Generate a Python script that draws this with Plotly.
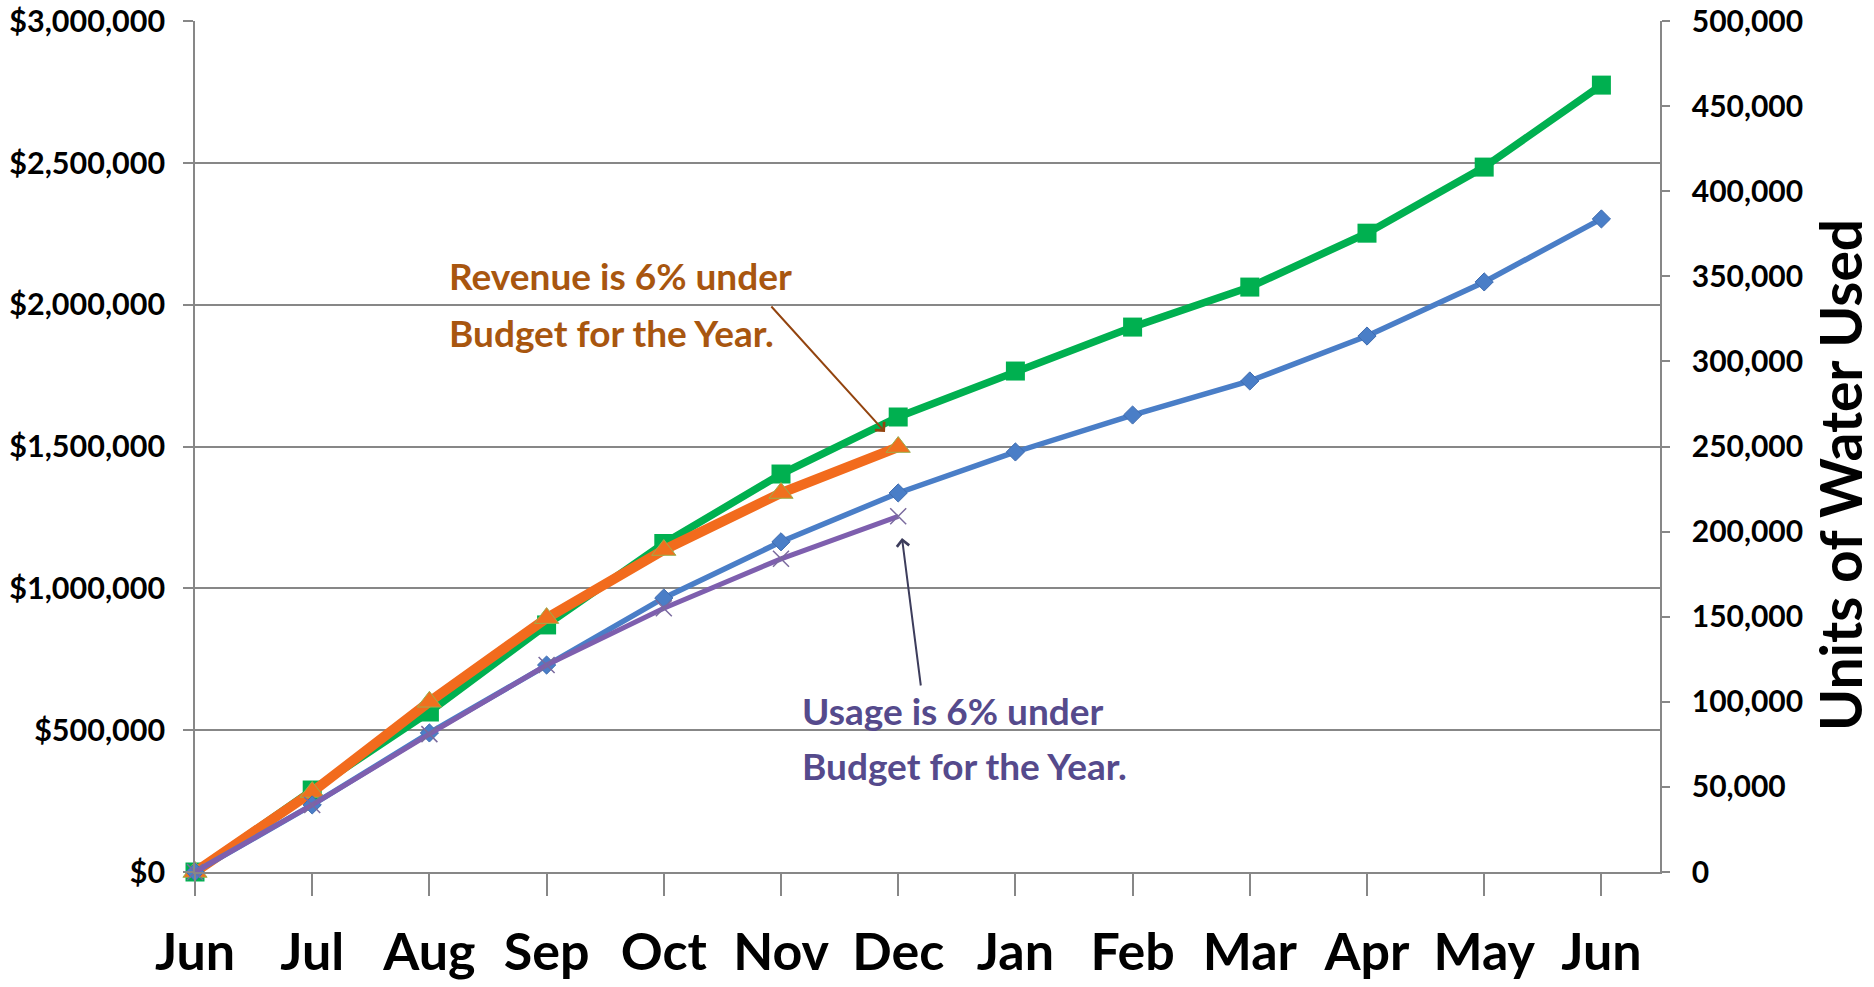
import plotly.graph_objects as go

months = ["Jun", "Jul", "Aug", "Sep", "Oct", "Nov", "Dec", "Jan", "Feb", "Mar", "Apr", "May", "Jun"]
revenue_budget = [0, 289000, 564000, 871000, 1158000, 1403000, 1604000, 1766000, 1921000, 2062000, 2252000, 2485000, 2774000]
revenue_actual = [0, 282000, 600000, 895000, 1135000, 1336000, 1498000]
usage_budget = [0, 39400, 81700, 121600, 161000, 194000, 222700, 246800, 268500, 288500, 314900, 346700, 383700]
usage_actual = [0, 39400, 81000, 121600, 155000, 184000, 209000]

left_ticks = [0, 500000, 1000000, 1500000, 2000000, 2500000, 3000000]
right_ticks = [0, 50000, 100000, 150000, 200000, 250000, 300000, 350000, 400000, 450000, 500000]

x_all = list(range(len(months)))

FONT = "Lato"
GRID = "#878787"

fig = go.Figure()

fig.add_trace(go.Scatter(
    x=x_all, y=revenue_budget, mode="lines+markers", yaxis="y",
    line=dict(color="#00B050", width=7.5),
    marker=dict(symbol="square", size=19, color="#00B050"),
    cliponaxis=False, name="Revenue Budget"))

fig.add_trace(go.Scatter(
    x=x_all[:len(revenue_actual)], y=revenue_actual, mode="lines+markers", yaxis="y",
    line=dict(color="#F26B1D", width=10),
    marker=dict(symbol="triangle-up", size=21, color="#F0701F",
                line=dict(color="#9BAF4C", width=1)),
    cliponaxis=False, name="Revenue Actual"))

fig.add_trace(go.Scatter(
    x=x_all, y=usage_budget, mode="lines+markers", yaxis="y2",
    line=dict(color="#4A7EC7", width=5.5),
    marker=dict(symbol="diamond", size=14, color="#4A7EC7",
                line=dict(color="#3F6CB0", width=1)),
    cliponaxis=False, name="Usage Budget"))

fig.add_trace(go.Scatter(
    x=x_all[:len(usage_actual)], y=usage_actual, mode="lines+markers", yaxis="y2",
    line=dict(color="#7E5FAE", width=5),
    marker=dict(symbol="x-thin-open", size=16, color="#7A6A9E",
                line=dict(color="#7A6A9E", width=1.5)),
    cliponaxis=False, name="Usage Actual"))

fig.update_layout(
    width=1874, height=987,
    margin=dict(l=195, r=214, t=21, b=115, autoexpand=False),
    paper_bgcolor="white", plot_bgcolor="white",
    showlegend=False,
    font=dict(family=FONT, color="black"),
    xaxis=dict(
        range=[0, 12.5], automargin=False,
        tickmode="array", tickvals=x_all, ticktext=months,
        tickfont=dict(family=FONT, size=52, color="black", weight="bold"),
        ticks="outside", ticklen=22, tickcolor=GRID, tickwidth=1.5,
        showline=True, linecolor=GRID, linewidth=1.5,
        showgrid=False, zeroline=False,
        ticklabelstandoff=12,
    ),
    yaxis=dict(
        range=[0, 3000000], automargin=False,
        tickmode="array", tickvals=left_ticks,
        ticktext=["${:,}".format(v) for v in left_ticks],
        tickfont=dict(family=FONT, size=30.5, color="black", weight="bold"),
        ticks="outside", ticklen=10, tickcolor=GRID, tickwidth=1.5,
        showline=True, linecolor=GRID, linewidth=1.5,
        showgrid=True, gridcolor=GRID, gridwidth=1.5,
        zeroline=False,
        ticklabelstandoff=12,
    ),
    yaxis2=dict(
        range=[0, 500000], overlaying="y", side="right", automargin=False,
        tickmode="array", tickvals=right_ticks,
        ticktext=["{:,}".format(v) for v in right_ticks],
        tickfont=dict(family=FONT, size=30, color="black", weight="bold"),
        ticks="outside", ticklen=8, tickcolor=GRID, tickwidth=1.5,
        showline=True, linecolor=GRID, linewidth=1.5,
        showgrid=False, zeroline=False,
        ticklabelstandoff=16,
    ),
)

rev_color = "#A8560F"
use_color = "#554A8C"

fig.add_annotation(xref="paper", yref="paper", x=(447 - 195) / 1465, y=(872 - 275) / 851,
                   text="Revenue is 6% under", showarrow=False, xanchor="left", yanchor="middle",
                   font=dict(family=FONT, size=37, color=rev_color, weight="bold"))
fig.add_annotation(xref="paper", yref="paper", x=(447 - 195) / 1465, y=(872 - 332) / 851,
                   text="Budget for the Year.", showarrow=False, xanchor="left", yanchor="middle",
                   font=dict(family=FONT, size=37, color=rev_color, weight="bold"))
fig.add_annotation(xref="paper", yref="paper", x=(800 - 195) / 1465, y=(872 - 710) / 851,
                   text="Usage is 6% under", showarrow=False, xanchor="left", yanchor="middle",
                   font=dict(family=FONT, size=37, color=use_color, weight="bold"))
fig.add_annotation(xref="paper", yref="paper", x=(800 - 195) / 1465, y=(872 - 765) / 851,
                   text="Budget for the Year.", showarrow=False, xanchor="left", yanchor="middle",
                   font=dict(family=FONT, size=37, color=use_color, weight="bold"))

# arrows
fig.add_annotation(xref="paper", yref="paper", x=(885 - 195) / 1465, y=(872 - 432) / 851,
                   ax=-115, ay=-127, text="", showarrow=True, arrowhead=4, arrowsize=1.2,
                   arrowwidth=2, arrowcolor="#93440F", standoff=0)
fig.add_annotation(xref="paper", yref="paper", x=(902 - 195) / 1465, y=(872 - 538) / 851,
                   ax=19, ay=149, text="", showarrow=True, arrowhead=4, arrowsize=1.2,
                   arrowwidth=2, arrowcolor="#3D3D5C", standoff=0)

# right axis title
fig.add_annotation(xref="paper", yref="paper", x=(1840 - 195) / 1465, y=(872 - 475) / 851,
                   text="Units of Water Used", showarrow=False, textangle=-90,
                   xanchor="center", yanchor="middle",
                   font=dict(family=FONT, size=57, color="black", weight="bold"))

fig.write_html("out.html", config={"displayModeBar": False},
               post_script="document.body.style.margin='0';document.body.style.overflow='hidden';")
